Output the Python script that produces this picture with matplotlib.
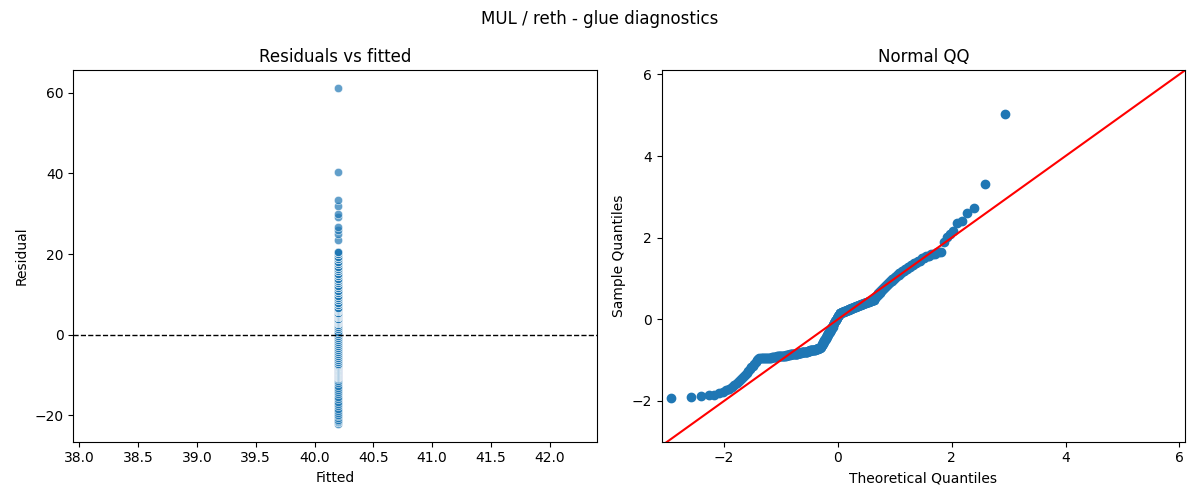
import numpy as np
import matplotlib
matplotlib.use("Agg")
import matplotlib.pyplot as plt
from statistics import NormalDist

fitted_value = 40.2
resid_values = [-22.0, -21.7, -21.5, -21.3, -21.1,
                -20.6, -20.2, -19.8, -19.3, -18.8, -18.3, -17.7, -17.2, -16.6, -16.0,
                -15.4, -14.8, -14.2, -13.7, -13.1, -12.6, -12.0, -11.5, -11.0, -10.6,
                -10.5, -10.3, -10.1, -9.9, -9.7, -9.5, -9.3, -9.1, -8.9, -8.7,
                -8.5, -8.3, -8.1, -7.9, -7.7, -7.5,
                -7.2, -6.7, -6.2, -5.7, -5.2, -4.7, -4.2, -3.7, -3.2, -2.7,
                -2.2, -1.7, -1.2, -0.7, -0.2, 0.3, 0.8, 1.3, 1.8, 2.3,
                2.8, 3.1, 3.4, 3.7, 4.0, 4.3, 4.6, 4.9, 5.2, 5.5, 5.8, 6.1, 6.4, 6.7,
                7.3, 7.9, 8.5, 9.1, 9.7, 10.3, 10.9, 11.5, 12.1, 12.7, 13.3, 13.9,
                14.5, 15.1, 15.7, 16.3, 16.9, 17.5, 18.1, 18.7, 19.3, 19.9, 20.5,
                23.4, 25.0, 26.0, 26.6, 29.2, 29.8, 31.9, 33.5, 40.4, 61.0]
resid_counts = [1, 1, 1, 1, 1,
                1, 1, 1, 1, 1, 1, 1, 1, 1, 1,
                1, 1, 1, 1, 1, 1, 1, 1, 1, 1,
                6, 6, 6, 6, 6, 6, 6, 6, 6, 6,
                5, 5, 5, 5, 5, 5,
                2, 2, 2, 2, 2, 2, 2, 2, 2, 2,
                2, 2, 2, 2, 2, 2, 2, 2, 2, 2,
                5, 5, 5, 5, 5, 5, 5, 5, 5, 5, 5, 5, 5, 5,
                3, 3, 3, 3, 3, 3, 3, 3, 3, 3, 3, 3,
                3, 3, 3, 3, 3, 3, 3, 3, 3, 3, 3,
                1, 1, 1, 1, 1, 1, 1, 1, 1, 1]

resid = np.repeat(resid_values, resid_counts)
fitted = np.full(len(resid), fitted_value)

fig, (ax1, ax2) = plt.subplots(1, 2, figsize=(12, 5), dpi=100)
fig.suptitle("MUL / reth - glue diagnostics")

# residuals vs fitted
ax1.scatter(fitted, resid, s=36, alpha=0.7, edgecolor="white", linewidth=0.5)
ax1.axhline(0, color="black", linestyle="--", linewidth=1)
ax1.set_xlim(37.95, 42.4)
ax1.set_xticks(np.arange(38.0, 42.01, 0.5))
ax1.set_ylim(-26.5, 65.5)
ax1.set_title("Residuals vs fitted")
ax1.set_xlabel("Fitted")
ax1.set_ylabel("Residual")

# normal QQ of standardised residuals
z = np.sort((resid - resid.mean()) / resid.std(ddof=1))
n = len(z)
theo = np.array([NormalDist().inv_cdf((i + 0.5) / n) for i in range(n)])
ax2.plot(theo, z, "o", color="C0", markersize=6)
ax2.plot([-3.1, 6.1], [-3.1, 6.1], color="red")
ax2.set_xlim(-3.1, 6.1)
ax2.set_ylim(-3.0, 6.1)
ax2.set_title("Normal QQ")
ax2.set_xlabel("Theoretical Quantiles")
ax2.set_ylabel("Sample Quantiles")

plt.tight_layout()
plt.savefig("out.png")
